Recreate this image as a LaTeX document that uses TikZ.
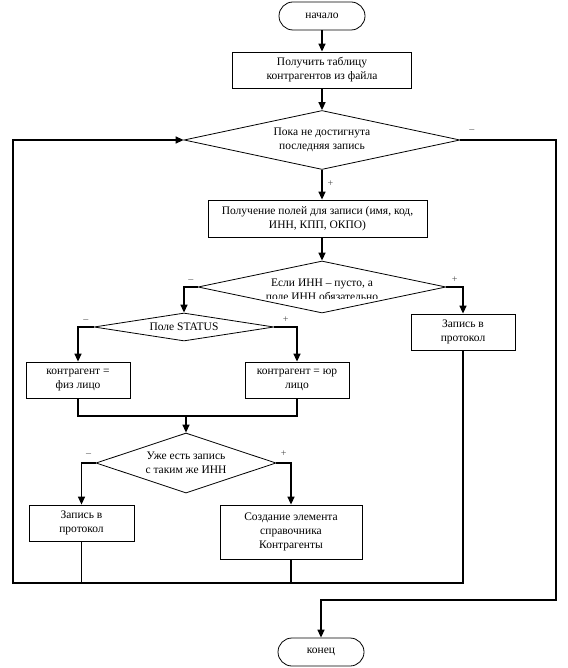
\documentclass[tikz,border=0pt]{standalone}
\usepackage{fontspec}
\setmainfont{Liberation Serif}
\usetikzlibrary{positioning,arrows.meta,shapes.geometric}

\begin{document}
\begin{tikzpicture}[x=1pt, y=-1pt, >={Triangle[length=8pt,width=7pt]},
    every node/.style={font=\fontsize{11.5}{14}\selectfont},
    block/.style={draw, rectangle, line width=0.8pt, align=center, inner sep=2pt},
    term/.style={draw, rectangle, rounded corners=14pt, minimum width=86pt, minimum height=28pt, line width=0.8pt},
    cond/.style={draw, diamond, inner sep=0pt, line width=0.8pt},
    flow/.style={line width=1.4pt},
    sign/.style={font=\fontsize{10}{11}\selectfont, text=black!70, inner sep=1pt}]

  \useasboundingbox (0,0) rectangle (567,668);

  \node[term] (start) at (322,16) {начало};
  \node[block, minimum width=179pt, minimum height=36pt] (get) at (322,70) {Получить таблицу\\контрагентов из файла};
  \node[cond, minimum width=276pt, minimum height=59pt, label={[align=center]center:{Пока не достигнута\\последняя запись}}] (loop) at (322,140) {};
  \node[block, minimum width=219pt, minimum height=37pt] (fields) at (317.5,218.5) {Получение полей для записи (имя, код,\\ИНН, КПП, ОКПО)};

  \node[cond, minimum width=248pt, minimum height=52pt] (inn) at (322,287) {};
  \begin{scope}
    \clip (200,265) rectangle (446,298);
    \node[align=center] (inntext) at (322,290) {Если ИНН – пусто, а\\поле ИНН обязательно};
  \end{scope}
  \node[block, minimum width=104pt, minimum height=36pt] (logR) at (463,332) {Запись в\\протокол};

  \node[cond, minimum width=180pt, minimum height=28pt, label=center:Поле STATUS] (status) at (184,327) {};
  \node[block, minimum width=104pt, minimum height=36pt] (fiz) at (78,380) {контрагент =\\физ лицо};
  \node[block, minimum width=104pt, minimum height=36pt] (yur) at (297,380) {контрагент = юр\\лицо};

  \node[cond, minimum width=180pt, minimum height=60pt, label={[align=center]center:{Уже есть запись\\с таким же ИНН}}] (same) at (186,463) {};
  \node[block, minimum width=105pt, minimum height=36pt] (logL) at (81.5,523) {Запись в\\протокол};
  \node[block, minimum width=142pt, minimum height=54pt] (create) at (291,532) {Создание элемента\\справочника\\Контрагенты};

  \node[term] (stop) at (321,652) {конец};

  \coordinate (merge) at (186,416);
  \coordinate (back) at (13,583);
  \coordinate (exit) at (556,600);

  % main column
  \draw[->, flow] (start) -- (get);
  \draw[->, flow] (get) -- (loop);
  \draw[->, flow] (loop) -- node[sign, right=4pt, pos=0.45] {+} (loop.south |- fields.north);
  \draw[->, flow] (inn.north |- fields.south) -- (inn);

  % branches
  \draw[->, flow] (inn.west) -| node[sign, pos=0.25, above=3pt] {–} (status.north);
  \draw[->, flow] (inn.east) -| node[sign, pos=0.25, above=3pt] {+} (logR.north);
  \draw[->, flow] (status.west) -| node[sign, pos=0.25, above=3pt] {–} (fiz.north);
  \draw[->, flow] (status.east) -| node[sign, pos=0.25, above=3pt] {+} (yur.north);
  \draw[flow] (fiz) |- (merge) -| (yur);
  \draw[->, flow] (merge) -- (same);
  \draw[->, flow] (same.west) -| node[sign, pos=0.25, above=5pt] {–} (logL.north);
  \draw[->, flow] (same.east) -| node[sign, pos=0.25, above=5pt] {+} (create.north);

  % back to the loop
  \draw[flow] (logL) -- (logL |- back);
  \draw[flow] (create) -- (create |- back);
  \draw[->, flow] (logR) |- (back) |- (loop.west);

  % leave the loop
  \draw[->, flow] (loop.east) -| node[sign, pos=0.06, above=6pt] {–} (exit) -| (stop);
\end{tikzpicture}
\end{document}
